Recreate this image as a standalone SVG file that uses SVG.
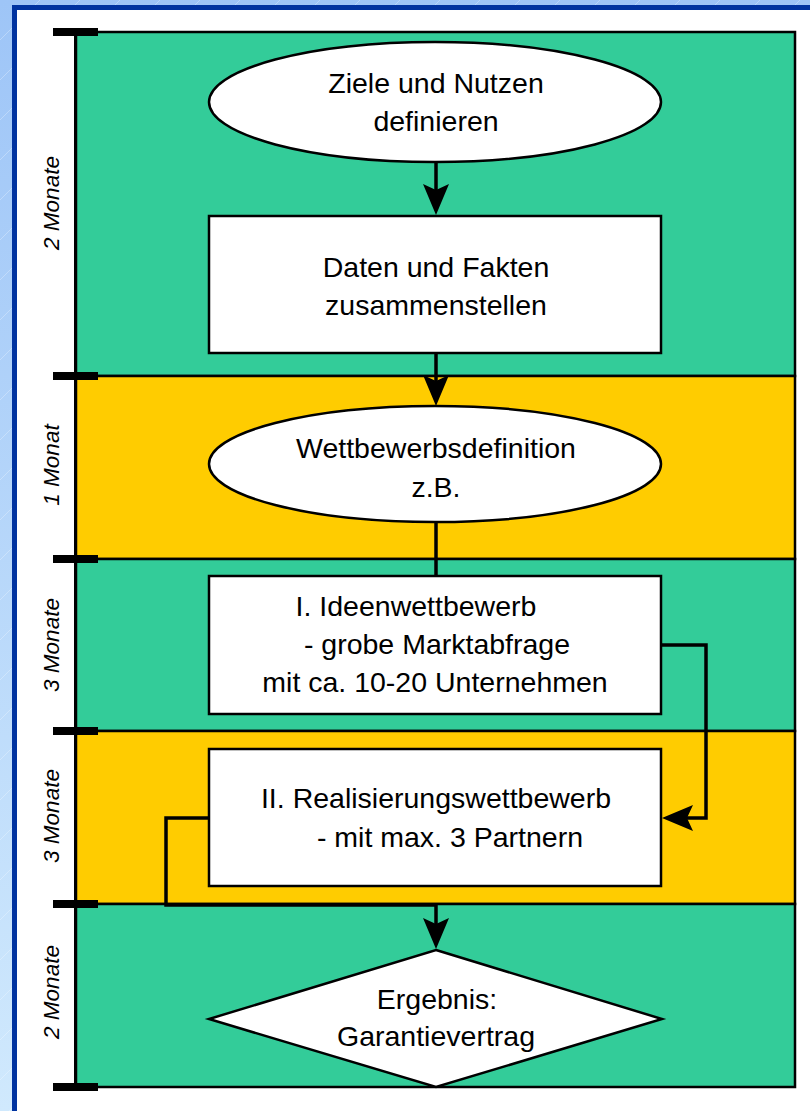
<svg xmlns="http://www.w3.org/2000/svg" width="810" height="1111" viewBox="0 0 810 1111">
  <defs>
    <linearGradient id="bg" x1="0" y1="0" x2="0" y2="1">
      <stop offset="0" stop-color="#9ec5f7"/>
      <stop offset="1" stop-color="#d0e9fd"/>
    </linearGradient>
    <pattern id="streaks" width="40" height="40" patternUnits="userSpaceOnUse">
      <path d="M0,40 L40,0" stroke="#ffffff" stroke-opacity="0.35" stroke-width="0.8"/>
    </pattern>
    <marker id="arrow" viewBox="-32 -14 32 28" refX="-20" refY="0" markerWidth="32" markerHeight="28" markerUnits="userSpaceOnUse" orient="auto">
      <path d="M0,0 L-31,-13 L-25,0 L-31,13 Z" fill="#000"/>
    </marker>
    <style>
      .band { stroke: #000; stroke-width: 2.5; }
      .green { fill: #33cc99; }
      .yellow { fill: #ffcc00; }
      .node { fill: #fff; stroke: #000; stroke-width: 2.5; }
      .lbl { font-family: "Liberation Sans", Arial, sans-serif; font-size: 28.5px; fill: #000; text-anchor: middle; }
      .side { font-family: "Liberation Sans", Arial, sans-serif; font-size: 22.5px; font-style: italic; fill: #000; text-anchor: middle; }
      .conn { fill: none; stroke: #000; stroke-width: 3.5; stroke-linejoin: miter; }
      .tick { fill: #000; }
    </style>
  </defs>

  <!-- background -->
  <rect x="0" y="0" width="810" height="1111" fill="url(#bg)"/>
  <rect x="0" y="0" width="810" height="1111" fill="url(#streaks)"/>
  <rect x="12" y="5" width="810" height="1120" fill="#0033a0"/>
  <rect x="17" y="10" width="800" height="1110" fill="#ffffff"/>

  <!-- phase bands -->
  <g id="bands">
    <rect class="band green" x="76" y="32" width="719" height="344"/>
    <rect class="band yellow" x="76" y="376" width="719" height="183"/>
    <rect class="band green" x="76" y="559" width="719" height="172"/>
    <rect class="band yellow" x="76" y="731" width="719" height="173"/>
    <rect class="band green" x="76" y="904" width="719" height="183"/>
  </g>

  <!-- time axis -->
  <g id="axis">
    <line x1="75.5" y1="32" x2="75.5" y2="1087" stroke="#000" stroke-width="3"/>
    <rect class="tick" x="53" y="28" width="45" height="8"/>
    <rect class="tick" x="53" y="372" width="45" height="8"/>
    <rect class="tick" x="53" y="555" width="45" height="8"/>
    <rect class="tick" x="53" y="727" width="45" height="8"/>
    <rect class="tick" x="53" y="900" width="45" height="8"/>
    <rect class="tick" x="53" y="1083" width="45" height="8"/>
    <text class="side" transform="translate(58.5,203) rotate(-90)">2 Monate</text>
    <text class="side" transform="translate(58.5,465) rotate(-90)">1 Monat</text>
    <text class="side" transform="translate(58.5,645) rotate(-90)">3 Monate</text>
    <text class="side" transform="translate(58.5,816) rotate(-90)">3 Monate</text>
    <text class="side" transform="translate(58.5,992) rotate(-90)">2 Monate</text>
  </g>

  <!-- connectors -->
  <g id="connectors">
    <path class="conn" d="M436,162 V195" marker-end="url(#arrow)"/>
    <path class="conn" d="M436,353 V386" marker-end="url(#arrow)"/>
    <path class="conn" d="M436,522 V576"/>
    <path class="conn" d="M661,645 H706 V818 H682" marker-end="url(#arrow)"/>
    <path class="conn" d="M209,818 H166 V905 H436 V929" marker-end="url(#arrow)"/>
  </g>

  <g id="node1">
    <ellipse class="node" cx="435" cy="102" rx="226" ry="60"/>
    <text class="lbl" x="436" y="93">Ziele und Nutzen</text>
    <text class="lbl" x="436" y="131">definieren</text>
  </g>

  <g id="node2">
    <rect class="node" x="209" y="216" width="452" height="137"/>
    <text class="lbl" x="436" y="277">Daten und Fakten</text>
    <text class="lbl" x="436" y="315">zusammenstellen</text>
  </g>

  <g id="node3">
    <ellipse class="node" cx="435" cy="464" rx="226" ry="58"/>
    <text class="lbl" x="436" y="458">Wettbewerbsdefinition</text>
    <text class="lbl" x="436" y="497">z.B.</text>
  </g>

  <g id="node4">
    <rect class="node" x="209" y="576" width="452" height="138"/>
    <text class="lbl" x="416" y="616">I. Ideenwettbewerb</text>
    <text class="lbl" x="437" y="654">- grobe Marktabfrage</text>
    <text class="lbl" x="435" y="692">mit ca. 10-20 Unternehmen</text>
  </g>

  <g id="node5">
    <rect class="node" x="209" y="749" width="452" height="137"/>
    <text class="lbl" x="436" y="808">II. Realisierungswettbewerb</text>
    <text class="lbl" x="450" y="847">- mit max. 3 Partnern</text>
  </g>

  <g id="node6">
    <polygon class="node" points="436,950 662,1019 436,1087 209,1019"/>
    <text class="lbl" x="437" y="1009">Ergebnis:</text>
    <text class="lbl" x="436" y="1046">Garantievertrag</text>
  </g>
</svg>
